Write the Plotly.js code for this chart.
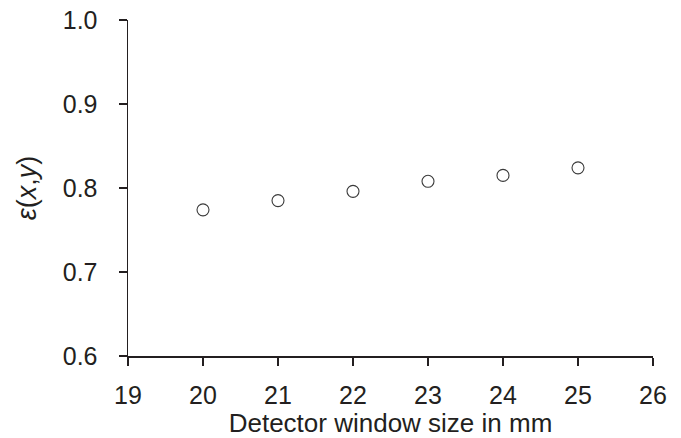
<!DOCTYPE html>
<html>
<head>
<meta charset="utf-8">
<script src="https://cdn.plot.ly/plotly-3.0.1.min.js"></script>
<style>html,body{margin:0;padding:0;background:#fff;}#chart{width:681px;height:438px;}</style>
</head>
<body>
<div id="chart"></div>
<script>
var windowSize = [20, 21, 22, 23, 24, 25];
var epsilon = [0.774, 0.785, 0.796, 0.808, 0.815, 0.824];
var xTicks = [19, 20, 21, 22, 23, 24, 25, 26];
var yTicks = [0.6, 0.7, 0.8, 0.9, 1.0];
var yTickText = ['0.6', '0.7', '0.8', '0.9', '1.0'];

var ink = '#231f20';
var trace = {
  x: windowSize, y: epsilon, type: 'scatter', mode: 'markers',
  marker: {symbol: 'circle-open', size: 12, color: '#3a3a3a', line: {width: 1.1, color: '#3a3a3a'}},
  hoverinfo: 'skip'
};
var layout = {
  width: 681, height: 438,
  margin: {l: 128, r: 28, t: 20, b: 82},
  paper_bgcolor: '#fff', plot_bgcolor: '#fff',
  showlegend: false,
  font: {family: 'Liberation Sans, Arial, sans-serif', color: ink, size: 25},
  xaxis: {
    range: [19, 26], tickvals: xTicks, ticktext: xTicks.map(String),
    showgrid: false, zeroline: false, showline: true, linecolor: ink, linewidth: 1.5,
    ticks: 'outside', ticklen: 8, tickwidth: 1.5, tickcolor: ink,
    tickfont: {size: 25, color: ink}, ticklabelstandoff: 8,
    title: {text: 'Detector window size in mm', font: {size: 26, color: ink}, standoff: 15}
  },
  yaxis: {
    range: [0.6, 1.0], tickvals: yTicks, ticktext: yTickText,
    showgrid: false, zeroline: false, showline: true, linecolor: ink, linewidth: 1.5,
    ticks: 'outside', ticklen: 8, tickwidth: 1.5, tickcolor: ink,
    tickfont: {size: 25, color: ink}, ticklabelstandoff: 16,
    title: {text: '<i>ε</i>(<i>x</i>,<i>y</i>)', font: {size: 27, color: ink}, standoff: 18}
  }
};
Plotly.newPlot('chart', [trace], layout, {staticPlot: true, displayModeBar: false});
</script>
</body>
</html>
